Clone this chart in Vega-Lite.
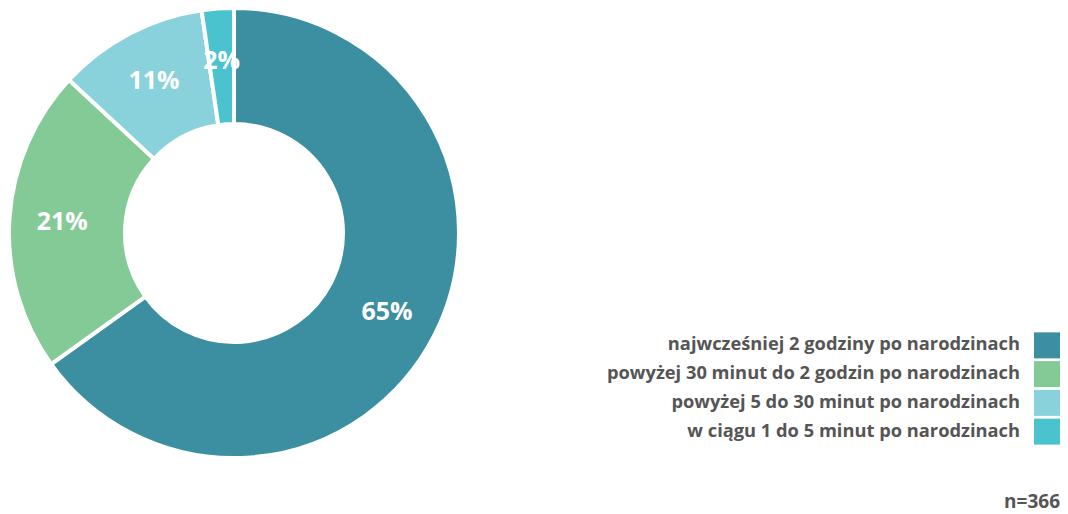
{
  "$schema": "https://vega.github.io/schema/vega-lite/v6.json",
  "padding": {"left": 0, "top": 0, "right": 8, "bottom": 0},
  "autosize": {"type": "pad"},
  "bounds": "flush",
  "spacing": 566,
  "background": "white",
  "config": {"view": {"stroke": null}, "font": "Open Sans"},
  "datasets": {
    "shares": [
      {"category": "najwcześniej 2 godziny po narodzinach", "value": 65.1, "label": "65%"},
      {"category": "powyżej 30 minut do 2 godzin po narodzinach", "value": 21.8, "label": "21%"},
      {"category": "powyżej 5 do 30 minut po narodzinach", "value": 10.8, "label": "11%"},
      {"category": "w ciągu 1 do 5 minut po narodzinach", "value": 2.3, "label": "2%"}
    ],
    "note": [{"note": "n=366"}]
  },
  "hconcat": [
    {
      "width": 468,
      "height": 466,
      "data": {"name": "shares"},
      "layer": [
        {
          "mark": {"type": "arc", "outerRadius": 225, "innerRadius": 109, "stroke": "white", "strokeWidth": 4},
          "encoding": {
            "theta": {"field": "value", "type": "quantitative", "stack": true},
            "order": {"field": "value", "sort": "descending"},
            "color": {
              "field": "category", "type": "nominal", "legend": null,
              "scale": {
                "domain": ["najwcześniej 2 godziny po narodzinach", "powyżej 30 minut do 2 godzin po narodzinach", "powyżej 5 do 30 minut po narodzinach", "w ciągu 1 do 5 minut po narodzinach"],
                "range": ["#3b8fa0", "#84ca97", "#89d2dc", "#4ac3cf"]
              }
            }
          }
        },
        {
          "mark": {"type": "text", "radius": 172, "fontSize": 25, "fontWeight": "bold", "fill": "white", "font": "Open Sans"},
          "encoding": {
            "theta": {"field": "value", "type": "quantitative", "stack": true},
            "order": {"field": "value", "sort": "descending"},
            "text": {"field": "label"}
          }
        }
      ]
    },
    {
      "width": 26,
      "height": 514,
      "resolve": {"scale": {"y": "independent"}},
      "layer": [
        {
          "data": {"name": "shares"},
          "mark": {"type": "square", "size": 676, "filled": true, "opacity": 1},
          "encoding": {
            "y": {"field": "category", "type": "nominal", "sort": null, "scale": {"type": "point", "range": [331, 446]}, "axis": null},
            "color": {
              "field": "category", "type": "nominal", "legend": null,
              "scale": {
                "domain": ["najwcześniej 2 godziny po narodzinach", "powyżej 30 minut do 2 godzin po narodzinach", "powyżej 5 do 30 minut po narodzinach", "w ciągu 1 do 5 minut po narodzinach"],
                "range": ["#3b8fa0", "#84ca97", "#89d2dc", "#4ac3cf"]
              }
            }
          }
        },
        {
          "data": {"name": "shares"},
          "mark": {"type": "text", "align": "right", "baseline": "middle", "dx": -27, "fontSize": 18.3, "fontWeight": "bold", "fill": "#555555", "font": "Open Sans"},
          "encoding": {
            "y": {"field": "category", "type": "nominal", "sort": null, "scale": {"type": "point", "range": [331, 446]}, "axis": null},
            "text": {"field": "category"}
          }
        },
        {
          "data": {"name": "note"},
          "mark": {"type": "text", "align": "right", "baseline": "middle", "dx": 13, "fontSize": 19, "fontWeight": "bold", "fill": "#555555", "font": "Open Sans"},
          "encoding": {
            "y": {"field": "note", "type": "nominal", "scale": {"type": "point", "range": [492, 512]}, "axis": null},
            "text": {"field": "note"}
          }
        }
      ]
    }
  ]
}
